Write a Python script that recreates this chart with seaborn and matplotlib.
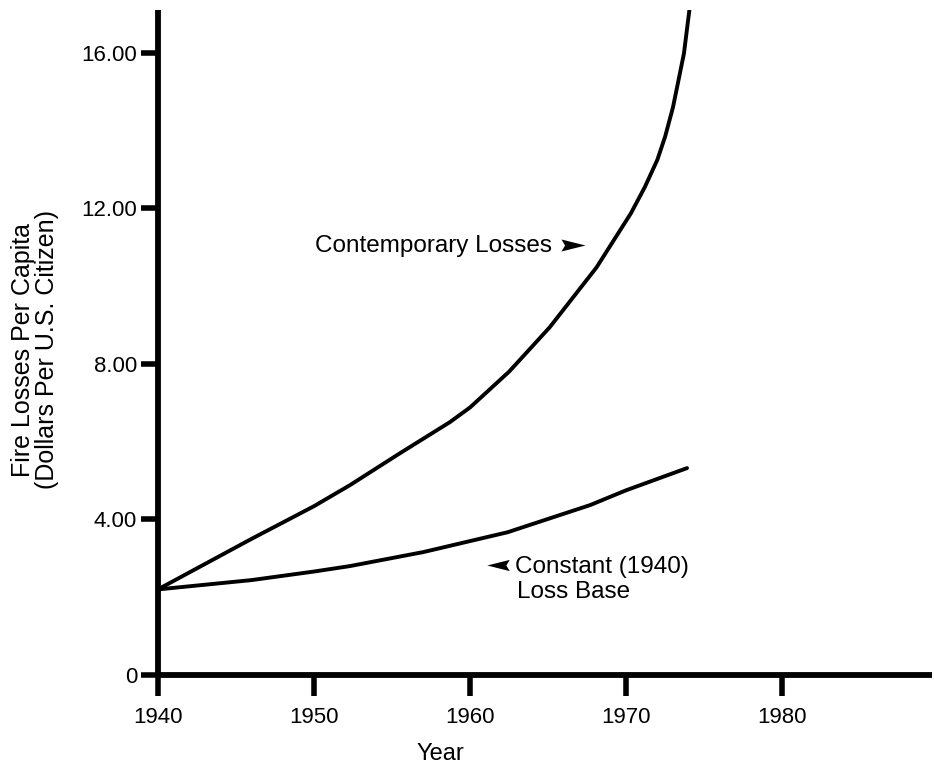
import matplotlib
matplotlib.use("Agg")
import matplotlib.pyplot as plt
import seaborn as sns
import pandas as pd

# values
contemporary_years = [1940, 1946, 1950, 1952.3, 1955.5, 1958.7, 1960, 1962.5, 1965.1,
                      1968.1, 1970.3, 1971.2, 1972.0, 1972.5, 1973.0, 1973.7, 1974.05]
contemporary_loss = [2.2, 3.5, 4.34, 4.88, 5.7, 6.5, 6.88, 7.8, 8.94,
                     10.48, 11.87, 12.55, 13.25, 13.85, 14.6, 15.98, 17.1]

constant_years = [1940, 1946, 1950, 1952.3, 1957.0, 1962.4, 1967.7, 1970, 1973.9]
constant_loss = [2.2, 2.44, 2.66, 2.8, 3.16, 3.67, 4.37, 4.75, 5.32]

x_ticks = [1940, 1950, 1960, 1970, 1980]
y_ticks = [0, 4, 8, 12, 16]
y_tick_labels = ["0", "4.00", "8.00", "12.00", "16.00"]

sns.set_style("ticks")
plt.rcParams["font.family"] = ["Liberation Sans", "DejaVu Sans"]
plt.rcParams["text.color"] = "black"
plt.rcParams["axes.labelcolor"] = "black"

df = pd.concat([
    pd.DataFrame({"year": contemporary_years, "loss": contemporary_loss, "series": "Contemporary"}),
    pd.DataFrame({"year": constant_years, "loss": constant_loss, "series": "Constant"}),
])

fig = plt.figure(figsize=(9.34, 7.70), dpi=100)
ax = fig.add_axes([0.169, 0.1234, 0.829, 0.8636])

sns.lineplot(data=df, x="year", y="loss", units="series", estimator=None,
             color="black", linewidth=2.8, ax=ax, legend=False)

ax.set_xlim(1940, 1989.6)
ax.set_ylim(0, 17.1)
ax.set_xticks(x_ticks)
ax.set_xticklabels([str(x) for x in x_ticks])
ax.set_yticks(y_ticks)
ax.set_yticklabels(y_tick_labels)

for side in ["top", "right"]:
    ax.spines[side].set_visible(False)
for side in ["left", "bottom"]:
    ax.spines[side].set_linewidth(4.2)
    ax.spines[side].set_color("black")
    ax.spines[side].set_capstyle("butt")
ax.tick_params(axis="y", length=12, width=4, pad=3, labelsize=16, colors="black")
ax.tick_params(axis="x", length=15, width=4, pad=8, labelsize=16, colors="black")

ax.set_xlabel("Year", fontsize=17)
ax.xaxis.set_label_coords((440 - 158) / 774, -0.102)
ax.xaxis.label.set_va("top")
ax.set_ylabel("Fire Losses Per Capita\n(Dollars Per U.S. Citizen)", fontsize=18,
              linespacing=1.0)
ax.yaxis.set_label_coords(-0.128, (675 - 350) / 665)

# annotations
ax.text(1950.06, 10.87, "Contemporary Losses", fontsize=17.5, ha="left", va="baseline")
ax.scatter([1966.6], [11.07], marker=[(-1, -0.5), (1, 0), (-1, 0.5), (-0.7, 0)],
           s=300, color="black", linewidths=0)
ax.scatter([1961.8], [2.84], marker=[(1, -0.5), (-1, 0), (1, 0.5), (0.7, 0)],
           s=260, color="black", linewidths=0)
ax.text(1962.9, 2.62, "Constant (1940)", fontsize=17.5, ha="left", va="baseline")
ax.text(1963.0, 1.98, "Loss Base", fontsize=17.5, ha="left", va="baseline")

fig.savefig("out.png", dpi=100)
